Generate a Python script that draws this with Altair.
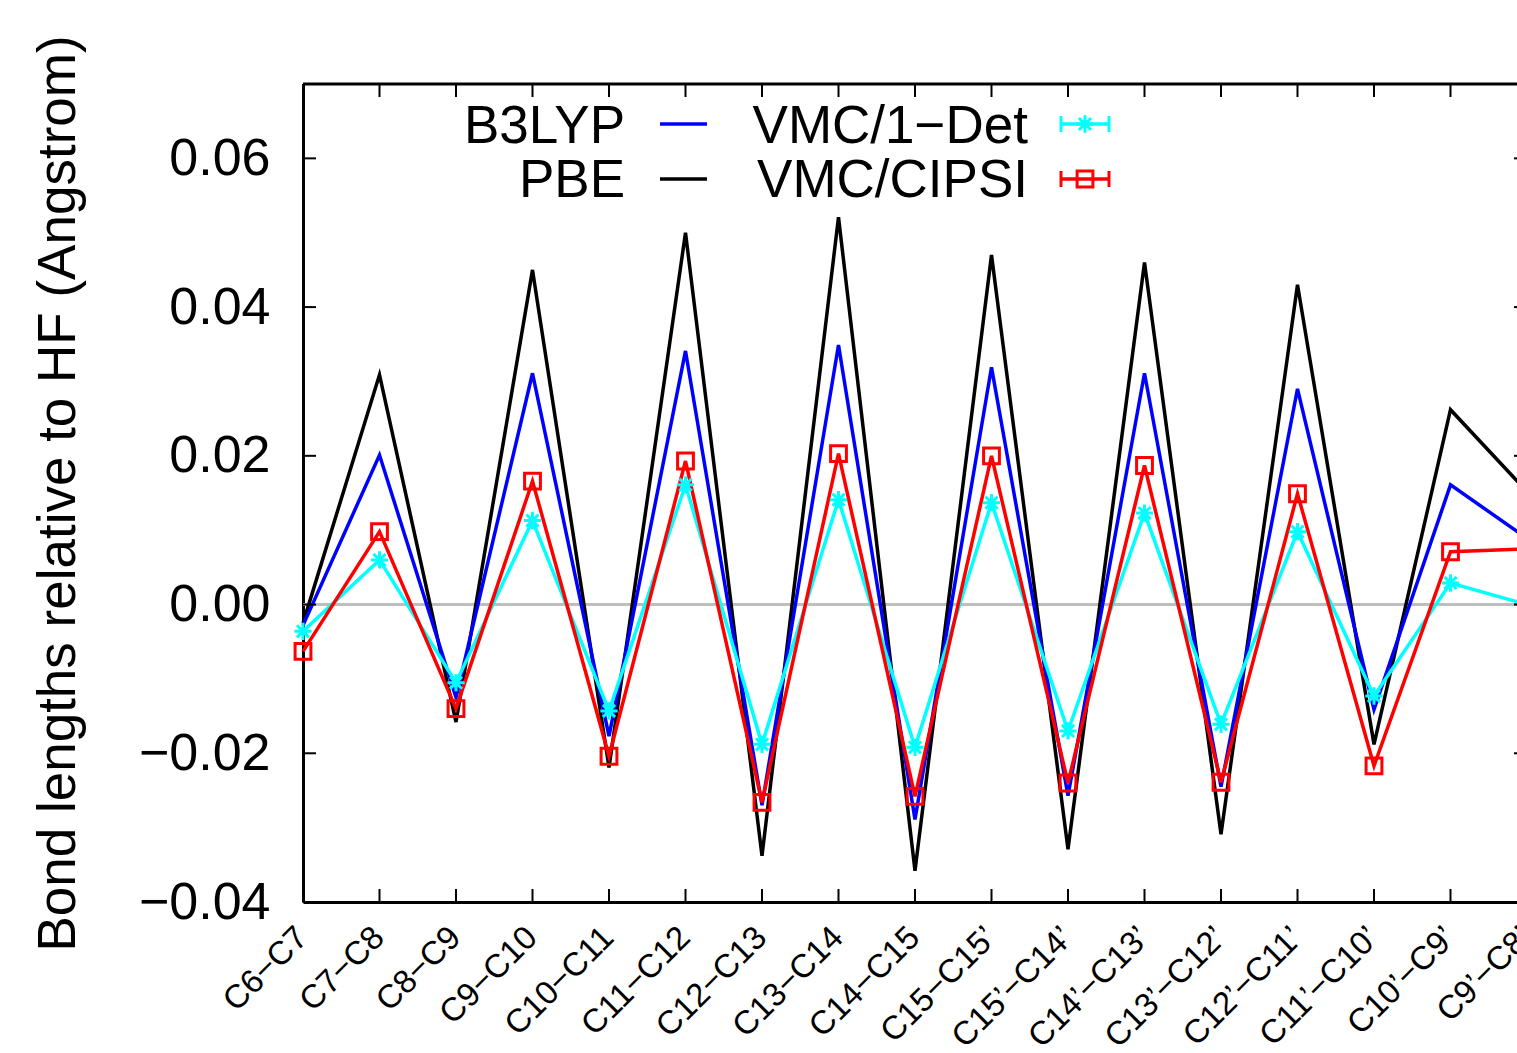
import altair as alt
import pandas as pd

# Plot area size in pixels
W, H = 1224, 818
FONT = "Liberation Sans"

bonds = [
    "C6−C7", "C7−C8", "C8−C9", "C9−C10", "C10−C11", "C11−C12", "C12−C13",
    "C13−C14", "C14−C15", "C15−C15’", "C15’−C14’", "C14’−C13’", "C13’−C12’",
    "C12’−C11’", "C11’−C10’", "C10’−C9’", "C9’−C8’",
]

# Bond length differences relative to HF (Angstrom)
b3lyp = [-0.0028, 0.0201, -0.0125, 0.0311, -0.0177, 0.0341, -0.0270, 0.0349,
         -0.0289, 0.0319, -0.0257, 0.0311, -0.0245, 0.0290, -0.0141, 0.0161, 0.0089]
pbe = [-0.0025, 0.0309, -0.0158, 0.0450, -0.0219, 0.0500, -0.0338, 0.0521,
       -0.0358, 0.0470, -0.0329, 0.0460, -0.0309, 0.0430, -0.0188, 0.0262, 0.0152]
vmc_1det = [-0.0036, 0.0060, -0.0105, 0.0113, -0.0143, 0.0161, -0.0188, 0.0141,
            -0.0192, 0.0137, -0.0170, 0.0123, -0.0161, 0.0098, -0.0123, 0.0029, 0.0000]
vmc_cipsi = [-0.0063, 0.0098, -0.0140, 0.0166, -0.0204, 0.0193, -0.0266, 0.0203,
             -0.0258, 0.0200, -0.0240, 0.0187, -0.0239, 0.0149, -0.0217, 0.0071, 0.0075]

y_ticks = [-0.04, -0.02, 0.0, 0.02, 0.04, 0.06]

legend_names = ["B3LYP", "PBE", "VMC/1−Det", "VMC/CIPSI"]
legend_colors = ["#0000ff", "#000000", "#00ffff", "#ff0000"]

ASTERISK = "M-1,0L1,0M0,-1L0,1M-0.7,-0.7L0.7,0.7M-0.7,0.7L0.7,-0.7"
LINE_W = 3.5
STAR_SIZE = 300
SQUARE_SIZE = 250

x_axis = alt.Axis(
    title=None, ticks=False, grid=False, domain=True, domainColor="black",
    domainWidth=3, labelAngle=-45, labelAlign="right", labelBaseline="middle",
    labelFont=FONT, labelFontSize=33, labelColor="black", labelPadding=30,
    labelOffset=-1, labelOverlap=False, labelBound=False, labelFlush=False,
)
y_axis = alt.Axis(
    title="Bond lengths relative to HF (Angstrom)", values=y_ticks, format=".2f",
    ticks=False, grid=False, domain=True, domainColor="black", domainWidth=3,
    labelFont=FONT, labelFontSize=52, labelColor="black", labelPadding=33,
    titleFont=FONT, titleFontSize=53, titleFontWeight="normal", titleColor="black",
    titlePadding=53,
)

X = alt.X("bond:O", sort=bonds, scale=alt.Scale(type="point", padding=0), axis=x_axis)
Y = alt.Y("value:Q", scale=alt.Scale(domain=[-0.04, 0.07], nice=False, zero=False), axis=y_axis)


def frame(values):
    return pd.DataFrame({"bond": bonds, "value": values})


zero_line = alt.Chart(pd.DataFrame({"value": [0.0]})).mark_rule(
    color="#bebebe", strokeWidth=3
).encode(y=Y)

lines = []
for vals, color in [(pbe, "#000000"), (b3lyp, "#0000ff"), (vmc_1det, "#00ffff"), (vmc_cipsi, "#ff0000")]:
    lines.append(
        alt.Chart(frame(vals)).mark_line(color=color, strokeWidth=LINE_W).encode(x=X, y=Y)
    )

stars = alt.Chart(frame(vmc_1det)).mark_point(
    shape=ASTERISK, size=STAR_SIZE, filled=False, color="#00ffff", strokeWidth=3, opacity=1
).encode(x=X, y=Y)
squares = alt.Chart(frame(vmc_cipsi)).mark_point(
    shape="square", size=SQUARE_SIZE, filled=False, color="#ff0000", strokeWidth=3, opacity=1
).encode(x=X, y=Y)

# Inward ticks on all four sides of the frame
xt = pd.DataFrame({"bond": bonds})
yt = pd.DataFrame({"value": y_ticks})
tick_style = dict(color="black", strokeWidth=2)
ticks = [
    alt.Chart(xt).mark_rule(**tick_style).encode(x=X, y=alt.value(H), y2=alt.value(H - 13)),
    alt.Chart(xt).mark_rule(**tick_style).encode(x=X, y=alt.value(0), y2=alt.value(13)),
    alt.Chart(yt).mark_rule(**tick_style).encode(y=Y, x=alt.value(0), x2=alt.value(13)),
    alt.Chart(yt).mark_rule(**tick_style).encode(y=Y, x=alt.value(W - 13), x2=alt.value(W)),
]

one = pd.DataFrame({"k": [0]})
border = [
    alt.Chart(one).mark_rule(color="black", strokeWidth=3).encode(
        x=alt.value(0), x2=alt.value(W), y=alt.value(0)),
    alt.Chart(one).mark_rule(color="black", strokeWidth=3).encode(
        x=alt.value(W), y=alt.value(0), y2=alt.value(H)),
]

# Key: two columns, label text right-aligned before each sample
legend = []
text_style = dict(font=FONT, fontSize=53, align="right", baseline="alphabetic", color="black")
label_pos = [(322, 59), (322, 113), (725, 59), (725, 113)]
for name, (lx, ly) in zip(legend_names, label_pos):
    legend.append(alt.Chart(one).mark_text(text=name, **text_style).encode(
        x=alt.value(lx), y=alt.value(ly)))
for color, sy in [(legend_colors[0], 40), (legend_colors[1], 95)]:
    legend.append(alt.Chart(one).mark_rule(color=color, strokeWidth=LINE_W).encode(
        x=alt.value(357), x2=alt.value(404), y=alt.value(sy)))
for color, sy, shape, size in [(legend_colors[2], 40, ASTERISK, STAR_SIZE),
                               (legend_colors[3], 95, "square", SQUARE_SIZE)]:
    legend.append(alt.Chart(one).mark_rule(color=color, strokeWidth=LINE_W).encode(
        x=alt.value(758), x2=alt.value(806), y=alt.value(sy)))
    for cx in (758, 806):
        legend.append(alt.Chart(one).mark_rule(color=color, strokeWidth=3).encode(
            x=alt.value(cx), y=alt.value(sy - 8), y2=alt.value(sy + 8)))
    legend.append(alt.Chart(one).mark_point(
        shape=shape, size=size, filled=False, color=color, strokeWidth=3, opacity=1
    ).encode(x=alt.value(782), y=alt.value(sy)))

chart = alt.layer(
    zero_line, *lines, stars, squares, *ticks, *border, *legend
).properties(
    width=W, height=H,
    autosize=alt.AutoSizeParams(type="none"),
    padding={"left": 303, "top": 84, "right": -10, "bottom": 151},
    background="white",
).configure_view(stroke=None)

chart.save("out.html", embed_options={"renderer": "svg", "actions": False})
